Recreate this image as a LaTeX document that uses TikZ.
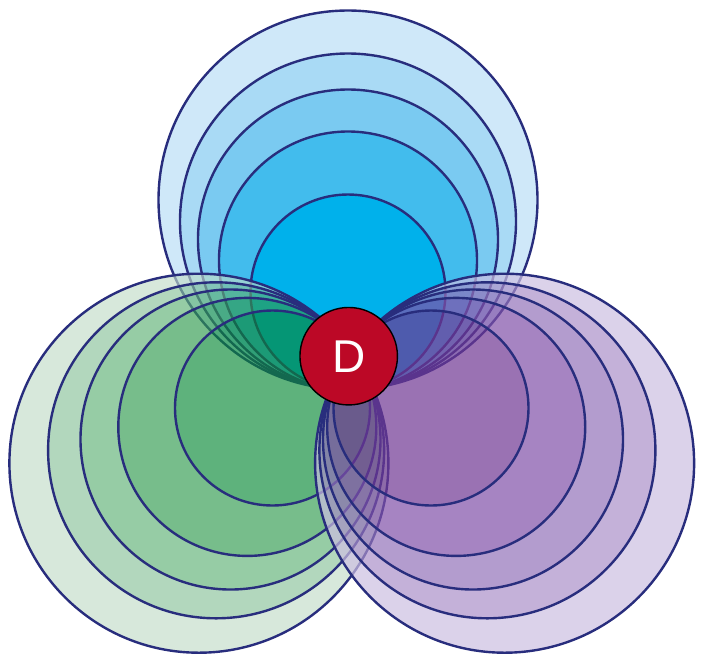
\documentclass[tikz,border=0pt]{standalone}
\usepackage{fontspec}
\setmainfont{Liberation Sans}
\definecolor{navy}{RGB}{40,45,125}
\definecolor{dred}{RGB}{188,8,38}
\definecolor{bA}{RGB}{207,232,249}
\definecolor{bB}{RGB}{169,218,245}
\definecolor{bC}{RGB}{122,202,241}
\definecolor{bD}{RGB}{66,188,237}
\definecolor{bE}{RGB}{0,177,235}
\definecolor{gA}{RGB}{194,221,201}
\definecolor{gB}{RGB}{137,194,155}
\definecolor{gC}{RGB}{94,178,117}
\definecolor{gD}{RGB}{47,155,78}
\definecolor{gE}{RGB}{9,137,55}
\definecolor{pA}{RGB}{205,191,226}
\definecolor{pB}{RGB}{172,145,202}
\definecolor{pC}{RGB}{148,115,186}
\definecolor{pD}{RGB}{129,81,169}
\definecolor{pE}{RGB}{112,55,148}
\begin{document}
\begin{tikzpicture}[x=1pt,y=-1pt,
  ring/.style={draw=navy, line width=2.4pt},
  greenfill/.style={fill opacity=0.65},
  purplefill/.style={fill opacity=0.7},
  dnode/.style={circle, fill=dred, draw=black, line width=1.4pt,
    minimum size=97.5pt, inner sep=0pt, text=white,
    font=\fontsize{46}{46}\selectfont}]
\useasboundingbox (0,0) rectangle (701,657);
\fill[white] (0,0) rectangle (701,657);
% ---- blue family (tangent at 348,389.5, opening upward)
\foreach \ro/\ri/\c in {189.5/168/bA, 168/150/bB, 150/129/bC, 129/97.5/bD}{
  \fill[\c, even odd rule] (348,{389.5-\ro}) circle[radius=\ro pt]
                           (348,{389.5-\ri}) circle[radius=\ri pt];}
\fill[bE] (348,{389.5-97.5}) circle[radius=97.5pt];
\foreach \r in {189.5,168,150,129,97.5}
  \draw[ring] (348,{389.5-\r}) circle[radius=\r pt];
% ---- green family (tangent at 350.5,349.5, opening down-left)
\foreach \ro/\ri/\c in {189.5/168/gA, 168/150/gB, 150/129/gC, 129/97.5/gD}{
  \fill[\c, greenfill, even odd rule]
    ({350.5-0.8*\ro},{349.5+0.6*\ro}) circle[radius=\ro pt]
    ({350.5-0.8*\ri},{349.5+0.6*\ri}) circle[radius=\ri pt];}
\fill[gE, greenfill] ({350.5-0.8*97.5},{349.5+0.6*97.5}) circle[radius=97.5pt];
\foreach \r in {189.5,168,150,129,97.5}
  \draw[ring] ({350.5-0.8*\r},{349.5+0.6*\r}) circle[radius=\r pt];
% ---- purple family (tangent at 353,349.5, opening down-right)
\foreach \ro/\ri/\c in {189.5/168/pA, 168/150/pB, 150/129/pC, 129/97.5/pD}{
  \fill[\c, purplefill, even odd rule]
    ({353+0.8*\ro},{349.5+0.6*\ro}) circle[radius=\ro pt]
    ({353+0.8*\ri},{349.5+0.6*\ri}) circle[radius=\ri pt];}
\fill[pE, purplefill] ({353+0.8*97.5},{349.5+0.6*97.5}) circle[radius=97.5pt];
\foreach \r in {189.5,168,150,129,97.5}
  \draw[ring] ({353+0.8*\r},{349.5+0.6*\r}) circle[radius=\r pt];
% ---- centre
\node[dnode] (D) at (348.7,356.2) {D};
\end{tikzpicture}
\end{document}
